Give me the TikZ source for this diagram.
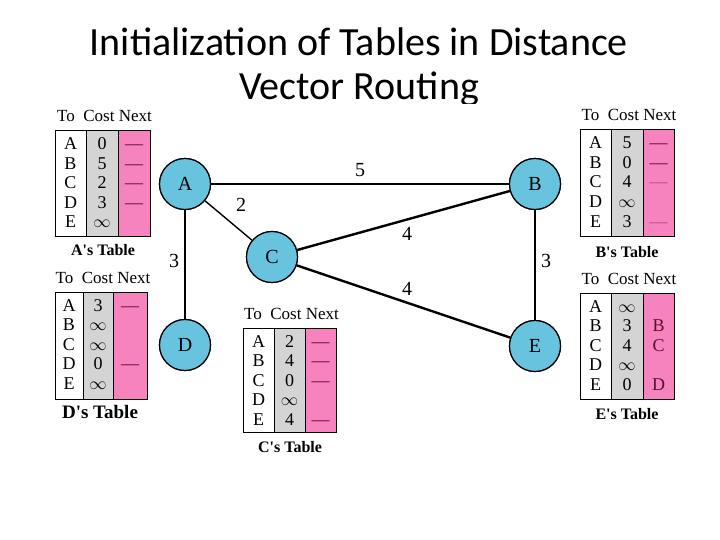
\documentclass[tikz,border=0pt]{standalone}
\usepackage{fontspec}
\setmainfont{Liberation Serif}
\newfontfamily\titlefont{Carlito}
\definecolor{nodeblue}{RGB}{104,196,222}
\definecolor{cellgray}{RGB}{212,212,212}
\definecolor{cellpink}{RGB}{246,130,190}
\definecolor{faintdash}{RGB}{200,70,130}
\definecolor{nextink}{RGB}{90,16,48}
\tikzset{
  router/.style={circle, draw=black, line width=1.2pt, fill=nodeblue, minimum size=51pt, inner sep=0pt, font=\fontsize{20}{20}\selectfont},
  thinlink/.style={line width=1.4pt},
  thicklink/.style={line width=2.4pt},
  cost/.style={font=\fontsize{20}{20}\selectfont, inner sep=0pt},
  hdr/.style={anchor=base, inner sep=0pt, font=\fontsize{17}{17}\selectfont},
  cell/.style={anchor=base, inner sep=0pt, font=\fontsize{18}{18}\selectfont},
  capt/.style={anchor=base, inner sep=0pt, font=\bfseries\fontsize{16}{16}\selectfont},
  titletext/.style={anchor=base, inner sep=0pt, font=\titlefont\fontsize{40}{40}\selectfont},
}
\newcommand\dsh{---}
\newcommand\fdsh{\textcolor{faintdash}{---}}
\newcommand\apo{\textquotesingle}
% #1 prefix, #2 x0, #3 x1, #4 x2, #5 x3, #6 ytop, #7 ybot, #8 rows
\newcommand\dvtable[8]{%
  \fill[white] (#2,#6) rectangle (#3,#7);
  \fill[cellgray] (#3,#6) rectangle (#4,#7);
  \fill[cellpink] (#4,#6) rectangle (#5,#7);
  \draw[line width=1pt] (#2,#6) rectangle (#5,#7) (#3,#6) -- (#3,#7) (#4,#6) -- (#4,#7);
  \node[hdr] (#1-hdr) at ({(#2+#5)/2+2}, {#6-9}) {To\ \ Cost Next};
  \foreach \d/\c/\n [count=\i] in {#8} {
    \node[cell] (#1-to-\i) at ({(#2+#3)/2}, {#6+19+(\i-1)*19.5}) {\d};
    \node[cell] (#1-cost-\i) at ({(#3+#4)/2}, {#6+19+(\i-1)*19.5}) {\c};
    \node[cell, text=nextink] (#1-next-\i) at ({(#4+#5)/2}, {#6+19+(\i-1)*19.5}) {\n};
  }
}
\begin{document}
\begin{tikzpicture}[x=1pt, y=-1pt]
\useasboundingbox (0,0) rectangle (720,540);
\fill[white] (0,0) rectangle (720,540);
% title
\node[titletext] (title1) at (359,56) {Initialization of Tables in Distance};
\node[titletext] (title2) at (359,100) {Vector Routing};
% picture area (white background of the figure)
\fill[white] (45,104) rectangle (690,470);
% routers
\node[router] (A) at (185,184) {A};
\node[router] (B) at (535,184) {B};
\node[router] (C) at (272,257) {C};
\node[router] (D) at (185,345) {D};
\node[router] (E) at (535,346) {E};
% links
\draw[thinlink] (A) -- (B);
\draw[thinlink] (A) -- (C);
\draw[thicklink] (A) -- (D);
\draw[thicklink] (C) -- (B);
\draw[thicklink] (C) -- (E);
\draw[thicklink] (B) -- (E);
% redraw routers on top
\node[router] at (A) {A};
\node[router] at (B) {B};
\node[router] at (C) {C};
\node[router] at (D) {D};
\node[router] at (E) {E};
% costs
\node[cost] (cAB) at (360,170) {5};
\node[cost] (cAC) at (241,205) {2};
\node[cost] (cAD) at (174,261) {3};
\node[cost] (cCB) at (407,234) {4};
\node[cost] (cBE) at (546,261) {3};
\node[cost] (cCE) at (407,289) {4};
% tables
\dvtable{TA}{55}{86}{118}{150}{131}{236}{A/0/\dsh, B/5/\dsh, C/2/\dsh, D/3/\dsh, E/$\infty$/{}}
\node[capt] (capA) at (103,255) {A\apo s Table};
\dvtable{TB}{580}{611}{643}{674}{130}{236}{A/5/\dsh, B/0/\dsh, C/4/\fdsh, D/$\infty$/{}, E/3/\fdsh}
\node[capt] (capB) at (627,257) {B\apo s Table};
\dvtable{TD}{55}{83}{113}{147}{292}{399}{A/3/\dsh, B/$\infty$/{}, C/$\infty$/{}, D/0/\dsh, E/$\infty$/{}}
\node[capt, font=\bfseries\fontsize{19}{19}\selectfont] (capD) at (100,418) {D\apo s Table};
\dvtable{TE}{580}{611}{643}{674}{293}{399}{A/$\infty$/{}, B/3/B, C/4/C, D/$\infty$/{}, E/0/D}
\node[capt] (capE) at (627,419) {E\apo s Table};
\dvtable{TC}{243}{274}{305}{336}{328}{432}{A/2/\dsh, B/4/\dsh, C/0/\dsh, D/$\infty$/{}, E/4/\dsh}
\node[capt] (capC) at (290,452) {C\apo s Table};
\end{tikzpicture}
\end{document}
